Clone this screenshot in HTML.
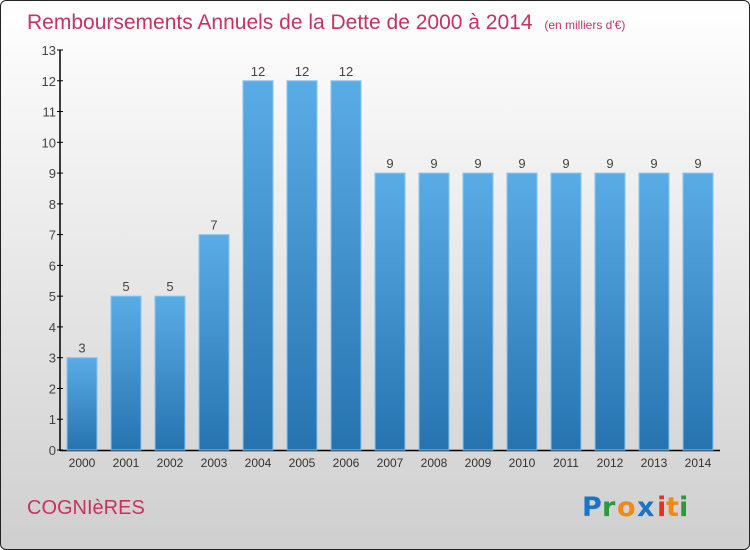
<!DOCTYPE html>
<html><head><meta charset="utf-8"><style>
body{margin:0;width:750px;height:550px;overflow:hidden;font-family:"Liberation Sans",sans-serif}
#bg{position:absolute;left:0;top:0;width:748px;height:548px;border:1px solid #222;border-radius:6px;background:linear-gradient(#ffffff,#cfcfcf)}
</style></head><body>
<div id="bg"></div>
<svg id="c" width="750" height="550" style="position:absolute;left:0;top:0">
<defs><linearGradient id="bar" x1="0" y1="0" x2="0" y2="1"><stop offset="0" stop-color="#5aace6"/><stop offset="1" stop-color="#2673b0"/></linearGradient></defs>
<text x="27" y="29" font-size="21" fill="#c8325e">Remboursements Annuels de la Dette de 2000 à 2014 <tspan font-size="12" dx="6">(en milliers d'€)</tspan></text>
<text x="27" y="514" font-size="20" fill="#c8325e">COGNIèRES</text>
<g font-size="27" font-weight="bold" font-family="'DejaVu Sans',sans-serif">
<text x="582" y="516" fill="#1a74c8">P</text><text x="602" y="516" fill="#2a9a3a">r</text><text x="617" y="516" fill="#f08a10">o</text><text x="637" y="516" fill="#1a74c8">x</text><text x="657" y="516" fill="#e83020">i</text><text x="666" y="516" fill="#f08a10">t</text><text x="679" y="516" fill="#2a9a3a">i</text></g>
<g id="ax"></g><g id="bars"></g>
</svg>
<script>
const years=["2000","2001","2002","2003","2004","2005","2006","2007","2008","2009","2010","2011","2012","2013","2014"];
const values=[3,5,5,7,12,12,12,9,9,9,9,9,9,9,9];
const ticks=[0,1,2,3,4,5,6,7,8,9,10,11,12,13];
const NS="http://www.w3.org/2000/svg";
const y=v=>450-v*400/13, x=i=>82+i*44;
function mk(t,a,p){const e=document.createElementNS(NS,t);for(const k in a)e.setAttribute(k,a[k]);p.appendChild(e);return e;}
const ax=document.getElementById('ax'),bg=document.getElementById('bars');
const yl=mk('line',{x1:60,y1:50,x2:60,y2:451,stroke:'#000','stroke-width':1.5},ax);


const xl=mk('line',{x1:60,y1:450.5,x2:720,y2:450.5,stroke:'#000','stroke-width':1.5},ax);


ticks.forEach(t=>{
 mk('line',{x1:57,x2:63,y1:y(t),y2:y(t),stroke:'#000'},ax);
 const tx=mk('text',{x:56,y:y(t)+5,'text-anchor':'end','font-size':13,fill:'#444'},ax);tx.textContent=t;
 
 
});
years.forEach((yr,i)=>{
 const v=values[i];
 const r=mk('rect',{x:x(i)-15,y:y(v),width:30,height:450-y(v),fill:'url(#bar)',stroke:'#8cc4ee','stroke-width':1},bg);
 
 
 const l=mk('text',{x:x(i),y:y(v)-5,'text-anchor':'middle','font-size':13,fill:'#444'},bg);l.textContent=v;
 
 
 const xt=mk('text',{x:x(i),y:467,'text-anchor':'middle','font-size':12,fill:'#333'},ax);xt.textContent=yr;
 
 
});
</script>
</body></html>
